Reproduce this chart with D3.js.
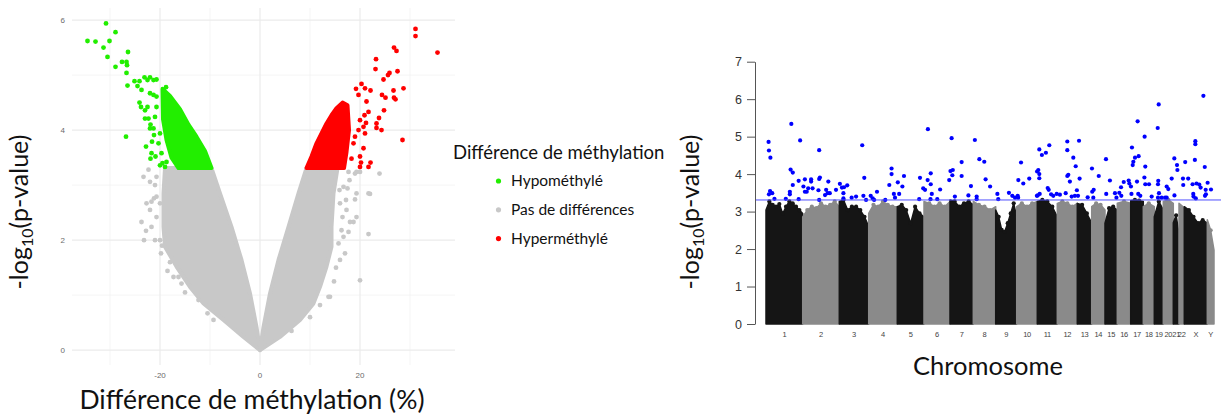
<!DOCTYPE html>
<html>
<head>
<meta charset="utf-8">
<script src="https://cdn.jsdelivr.net/npm/d3@7"></script>
<style>
  body { margin: 0; background: #fff; }
  svg { display: block; }
</style>
</head>
<body>
<svg id="chart" width="1221" height="416"></svg>
<script>
// ---- volcano plot data : [difference %, -log10(p)] ----
// dense clouds are outlined, isolated points are listed one by one
var greyLeftCloud = [[-19,3.31],[-9.7,3.31],[-8,2.85],[-5.7,2.24],[-3.7,1.64],[-2,1.03],[-0.7,0.42],[0,0],
  [-3.3,0.24],[-7.3,0.55],[-11.3,0.85],[-14,1.15],[-16.7,1.52],[-19,1.88],[-19.3,2.24],[-19.3,2.85]];
var greyRightCloud = [[9.3,3.31],[15.5,3.31],[14.7,2.85],[14.3,2.24],[14.3,1.88],[13.3,1.52],[12,1.15],
  [10.7,0.85],[8,0.55],[4,0.24],[0,0],[0.7,0.42],[2,1.03],[3.7,1.64],[5.7,2.24],[7.7,2.85]];
var hypoCloud = [[-19.5,4.75],[-18,4.62],[-16,4.38],[-14.3,4.1],[-12.7,3.88],[-11,3.62],[-9.7,3.31],
  [-16.3,3.31],[-17.7,3.5],[-18.7,3.82],[-19.4,4.2]];
var hyperCloud = [[9.3,3.31],[10.3,3.52],[11.3,3.76],[12.3,3.94],[13.3,4.12],[14.3,4.27],[15.3,4.4],
  [16.5,4.5],[17.5,4.45],[17.8,4.0],[17.3,3.6],[16.8,3.31]];

var greyPoints = [[-23.3,3.15],[-22.3,3.28],[-22,3.06],[-20.7,3.15],[-21,3.0],[-22.7,2.67],[-21.7,2.7],
  [-21.2,2.76],[-20.7,2.79],[-22,2.55],[-23.7,2.33],[-22.8,2.17],[-23.2,2.0],[-21,2.0],[-20,2.0],
  [-21.7,2.24],[-19.8,1.76],[-18.5,1.44],[-17.3,1.33],[-16.3,1.33],[-15.7,1.21],[-12.3,0.91],[-10.5,0.67],
  [-9.3,0.55],[-20,2.67],[-20.7,2.42],[-19.6,1.9],[-18,1.6],[-15,1.05],
  [23.9,3.21],[20,3.24],[19.3,3.24],[19,3.21],[17.7,3.24],[17.9,3.09],[21.7,2.85],[22,2.84],[19.3,2.85],
  [19,2.74],[17.2,2.73],[16.7,2.97],[17.5,2.94],[17.3,2.55],[19.3,2.42],[18,2.33],[18.7,2.33],[16.5,2.42],
  [17.7,2.15],[16.7,2.06],[21.7,2.11],[17,1.76],[16,1.64],[20,1.27],[14,0.97],[13.7,0.97],[12,0.82],
  [10,0.6],[6.3,0.35],[15.7,1.94],[16.3,2.18],[16,2.67],[15.9,2.91],[15.2,1.5],[14.8,1.25]];
var hypoPoints = [[-34.5,5.62],[-32.9,5.61],[-30.8,5.94],[-30.1,5.62],[-31.3,5.5],[-30.5,5.33],[-28.9,5.78],
  [-28.9,5.15],[-27.6,5.24],[-26.7,5.24],[-26.6,5.18],[-26.4,5.42],[-26.7,5.04],[-26.5,4.81],[-26.8,3.88],
  [-25.1,4.89],[-24.1,4.89],[-23.7,4.73],[-24.5,4.8],[-23.1,4.96],[-22.5,4.91],[-22,4.96],[-21.3,4.91],
  [-20.7,4.92],[-24.1,4.5],[-23.8,4.42],[-23,4.36],[-22.5,4.42],[-22,4.67],[-21.3,4.64],[-20.7,4.61],
  [-23,4.21],[-22.3,4.21],[-22,4.03],[-21.9,4.1],[-21.3,4.03],[-21,4.24],[-21.2,3.91],[-22.8,3.7],
  [-21.6,3.79],[-21.7,3.58],[-21.9,3.48],[-20.9,3.52],[-20.3,3.76],[-20,3.94],[-20.7,4.42],[-19.7,3.58],
  [-19,3.33],[-18.7,3.42],[-19.3,4.73],[-18.8,4.78],[-20,3.36],[-19.5,3.4]];
var hyperPoints = [[31.1,5.84],[31.1,5.71],[35.5,5.41],[26.8,5.5],[27.3,5.44],[23.2,5.29],[23.1,5.11],
  [25.9,5.04],[25.6,5.0],[27.5,5.07],[24.7,4.92],[28.7,4.76],[26.7,4.72],[24.4,4.64],[25.1,4.59],
  [26.8,4.59],[27.1,4.56],[24.8,4.36],[23.8,4.22],[23.3,4.12],[23.3,4.04],[24.3,4.0],[28.5,3.82],
  [20.3,4.84],[19.2,4.75],[21,4.76],[22.1,4.72],[19.7,4.64],[21.3,4.52],[21.7,4.33],[20.9,4.27],[20,4.18],
  [21.2,4.13],[20.7,4.06],[21,3.94],[19.7,4.0],[19,3.88],[20.7,3.67],[20,3.52],[20.2,3.41],[21.7,3.33],
  [22.1,3.41],[20,3.33],[18.3,3.48],[18.7,3.76]];

var volXTicks = [-20, 0, 20];
var volYTicks = [0, 2, 4, 6];
var legendLabels = ["Hypométhylé", "Pas de différences", "Hyperméthylé"];

// ---- manhattan plot data ----
var chrNames = ["1","2","3","4","5","6","7","8","9","10","11","12","13","14","15","16","17","18","19","20","21","22","X","Y"];
var chrSize = [36.7,36.6,29.4,28.6,26.7,26,23.3,22.4,21,20.6,20,20,14.4,13.3,12.3,13.4,12.6,11,9,10,5.7,5.3,23,6.7];
// upper edge of the dense column, sampled across each chromosome
var chrTop = [
  [3.04,3.27,3.18,3.13,3.2,2.95,3.13,3.27,3.22,3.13,3.04,2.95],
  [2.86,3.04,3.13,3.09,3.22,3.13,3.18,3.27,3.13],
  [3.27,3.31,3.04,3.13,3.13,3.04,2.86,2.6],
  [2.95,3.18,3.13,3.27,3.18,3.13,3.13],
  [3.13,3.18,3.04,2.69,3.13,2.95,2.86],
  [3.27,3.22,3.13,3.22,3.13,3.27],
  [3.31,3.27,3.13,3.22,3.27,3.18],
  [3.27,3.18,3.13,3.04,3.13],
  [3.04,2.86,2.51,2.46,2.69,2.95,3.22,2.86],
  [3.13,3.22,3.13,3.22,3.27],
  [3.27,3.31,3.27,3.13,2.86],
  [3.22,3.27,3.22,3.13,3.22],
  [3.22,3.18,2.95,2.69],
  [3.13,3.22,3.18,3.04],
  [2.69,3.09,3.13,3.04],
  [3.22,3.27,3.22],
  [3.29,3.31,3.29,3.27],
  [3.13,3.22,3.13],
  [2.86,3.27,3.04],
  [3.27,3.31,3.22],
  [2.7,2.9,2.4],
  [3.22,3.1],
  [3.13,3.04,2.86,2.69,2.77,2.69],
  [2.78,2.5,1.97]
];
// significant probes: [chromosome, position within chromosome (0-1), -log10(p)]
var sigPoints = [
  ["1",.07,4.86],["1",.08,4.63],["1",.12,4.44],["1",.11,3.55],["1",.08,3.46],["1",.17,3.49],["1",.23,3.34],
  ["1",.54,3.34],["1",.69,5.34],["1",.93,4.9],["1",.67,4.12],["1",.73,4.04],["1",.73,3.71],["1",.65,3.53],
  ["1",.65,3.46],["1",.89,3.82],["1",.89,3.33],
  ["2",.02,3.67],["2",.06,3.86],["2",.23,3.86],["2",.23,3.8],["2",.15,3.62],["2",.06,3.53],["2",.11,3.53],
  ["2",.27,3.62],["2",.45,4.64],["2",.45,3.87],["2",.47,3.91],["2",.43,3.57],["2",.45,3.31],["2",.61,3.44],
  ["2",.64,3.58],["2",.70,3.8],["2",.68,3.49],["2",.74,3.49],["2",.91,3.58],
  ["3",.02,3.74],["3",.09,3.64],["3",.14,3.49],["3",.16,3.65],["3",.27,3.7],["3",.14,3.35],["3",.42,3.37],
  ["3",.57,3.4],["3",.78,4.77],["3",.85,3.9],["3",.82,3.42],["3",.91,3.31],
  ["4",.07,3.42],["4",.14,3.35],["4",.19,3.31],["4",.29,3.53],["4",.58,3.31],["4",.80,4.15],["4",.80,4.0],
  ["4",.72,3.71],["4",.88,3.47],["4",.92,3.37],
  ["5",.02,3.78],["5",.07,3.47],["5",.19,3.67],["5",.25,3.95],["5",.82,3.33],["5",.85,3.9],["5",.97,3.62],
  ["6",.15,5.2],["6",.04,3.58],["6",.14,3.84],["6",.26,4.02],["6",.26,3.73],["6",.3,3.47],["6",.25,3.33],
  ["6",.62,3.59],["6",.51,3.33],["6",.97,3.84],
  ["7",.07,4.96],["7",.12,4.11],["7",.02,4.08],["7",.1,3.97],["7",.21,3.4],["7",.5,4.32],["7",.5,3.95],
  ["7",.79,3.43],["7",.9,3.68],
  ["8",.07,4.91],["8",.15,3.4],["8",.15,3.33],["8",.27,4.4],["8",.49,4.33],["8",.55,3.86],["8",.75,3.67],
  ["9",.08,3.47],["9",.12,3.33],["9",.63,3.5],["9",.79,3.42],["9",.92,3.37],
  ["10",.05,3.42],["10",.07,3.37],["10",.08,3.84],["10",.21,4.31],["10",.32,3.75],["10",.61,3.88],
  ["10",.98,3.42],["10",.99,4.07],
  ["11",.1,4.66],["11",.23,4.51],["11",.43,4.57],["11",.6,4.77],["11",.05,4.11],["11",.1,4.0],["11",.1,3.89],
  ["11",.12,3.47],["11",.02,3.43],["11",.52,3.63],["11",.57,3.58],["11",.69,3.46],["11",.8,3.42],["11",.97,3.47],
  ["12",.13,3.45],["12",.42,3.49],["12",.5,4.87],["12",.5,4.64],["12",.8,4.44],["12",.92,4.21],["12",.5,3.95],
  ["12",.55,3.98],["12",.63,3.8],["12",.72,3.4],["12",.88,3.42],["12",.98,3.57],
  ["13",.12,4.89],["13",.16,3.88],["13",.05,3.42],["13",.72,3.38],
  ["14",.02,4.15],["14",.04,3.53],["14",.15,3.58],["14",.12,3.37],["14",.53,3.95],
  ["15",.08,4.4],["15",.1,3.47],["15",.4,3.83],["15",.81,3.49],["15",.93,3.37],
  ["16",.15,3.5],["16",.28,3.65],["16",.48,3.79],["16",.85,3.83],["16",.9,3.75],["16",.3,3.42],
  ["17",.1,4.71],["17",.16,4.24],["17",.21,4.33],["17",.34,4.44],["17",.55,5.41],["17",.63,4.48],["17",.02,3.67],
  ["17",.06,3.47],["17",.5,3.8],["17",.6,3.47],["17",.76,3.42],
  ["18",.12,5.0],["18",.18,4.2],["18",.1,3.91],["18",.18,3.73],["18",.52,3.73],["18",.76,3.4],
  ["19",.49,5.86],["19",.38,5.23],["19",.44,3.82],["19",.41,3.73],["19",.52,3.49],["19",.41,3.37],["19",.82,3.37],
  ["20",.18,3.37],["20",.34,3.67],["20",.5,3.6],["20",.34,3.37],["20",.84,3.88],
  ["21",.18,4.42],["21",.65,4.24],["21",.72,4.11],["21",.2,3.43],
  ["22",.75,3.88],["22",.8,3.71],
  ["X",.04,4.32],["X",.17,3.88],["X",.48,4.88],["X",.48,4.8],["X",.46,4.38],["X",.36,3.73],["X",.39,3.47],
  ["X",.4,3.4],["X",.53,3.75],["X",.65,3.72],["X",.71,3.64],["X",.83,6.09],["X",.89,4.19],["X",.5,3.35],
  ["X",.9,3.42],["X",.93,3.58],["X",.94,3.46],
  ["Y",.05,3.77],["Y",.55,3.59]
];
var manYTicks = [0, 1, 2, 3, 4, 5, 6, 7];
var threshold = 3.31;

var svg = d3.select("#chart");
var titleFont = "Lato, 'Open Sans', sans-serif";

// ================= volcano =================
var vx = d3.scaleLinear().domain([-37.6, 39]).range([72, 455]);
var vy = d3.scaleLinear().domain([-0.27, 6.22]).range([365, 8]);

var vol = svg.append("g");

// grid (minor then major)
[-30, -10, 10, 30].forEach(function (d) {
  vol.append("line").attr("x1", vx(d)).attr("x2", vx(d)).attr("y1", 8).attr("y2", 365)
    .attr("stroke", "#f2f2f2").attr("stroke-width", 0.8);
});
[1, 3, 5].forEach(function (d) {
  vol.append("line").attr("x1", 72).attr("x2", 455).attr("y1", vy(d)).attr("y2", vy(d))
    .attr("stroke", "#f2f2f2").attr("stroke-width", 0.8);
});
volXTicks.forEach(function (d) {
  vol.append("line").attr("x1", vx(d)).attr("x2", vx(d)).attr("y1", 8).attr("y2", 365)
    .attr("stroke", "#ebebeb").attr("stroke-width", 1.2);
});
volYTicks.forEach(function (d) {
  vol.append("line").attr("x1", 72).attr("x2", 455).attr("y1", vy(d)).attr("y2", vy(d))
    .attr("stroke", "#ebebeb").attr("stroke-width", 1.2);
});

var outline = d3.line().x(function (d) { return vx(d[0]); }).y(function (d) { return vy(d[1]); })
  .curve(d3.curveLinearClosed);

var GREY = "#c8c8c8", GREEN = "#22ee00", RED = "#ff0000";

function cloud(pts, col) {
  vol.append("path").attr("d", outline(pts)).attr("fill", col).attr("stroke", col)
    .attr("stroke-width", 4).attr("stroke-linejoin", "round");
}
function dots(pts, col) {
  vol.append("g").selectAll("circle").data(pts).enter().append("circle")
    .attr("cx", function (d) { return vx(d[0]); })
    .attr("cy", function (d) { return vy(d[1]); })
    .attr("r", 2.4).attr("fill", col);
}
cloud(greyLeftCloud, GREY);
cloud(greyRightCloud, GREY);
dots(greyPoints, GREY);
cloud(hypoCloud, GREEN);
dots(hypoPoints, GREEN);
cloud(hyperCloud, RED);
dots(hyperPoints, RED);

// tick labels
vol.append("g").selectAll("text").data(volXTicks).enter().append("text")
  .attr("x", function (d) { return vx(d); }).attr("y", 378)
  .attr("text-anchor", "middle").attr("font-family", "'Liberation Sans', Arial, sans-serif")
  .attr("font-size", 8).attr("fill", "#6b6b6b").text(function (d) { return d; });
vol.append("g").selectAll("text").data(volYTicks).enter().append("text")
  .attr("x", 65).attr("y", function (d) { return vy(d) + 3; })
  .attr("text-anchor", "end").attr("font-family", "'Liberation Sans', Arial, sans-serif")
  .attr("font-size", 8).attr("fill", "#6b6b6b").text(function (d) { return d; });

// titles
vol.append("text").attr("x", 252).attr("y", 409).attr("text-anchor", "middle")
  .attr("font-family", titleFont).attr("font-size", 26.5).attr("fill", "#111")
  .text("Différence de méthylation (%)");

function logTitle(cx, cy) {
  var t = svg.append("text").attr("transform", "translate(" + cx + "," + cy + ") rotate(-90)")
    .attr("text-anchor", "middle").attr("font-family", titleFont).attr("font-size", 25).attr("fill", "#111");
  t.append("tspan").text("-log");
  t.append("tspan").attr("font-size", 16).attr("dy", 5).text("10");
  t.append("tspan").attr("dy", -5).text("(p-value)");
}
logTitle(28, 212);

// legend
var leg = svg.append("g");
leg.append("text").attr("x", 453).attr("y", 159).attr("font-family", titleFont)
  .attr("font-size", 18.5).attr("fill", "#111").text("Différence de méthylation");
var legCols = [GREEN, GREY, RED];
legendLabels.forEach(function (lab, i) {
  var y = 181 + i * 28.8;
  leg.append("circle").attr("cx", 498.5).attr("cy", y).attr("r", 2.6).attr("fill", legCols[i]);
  leg.append("text").attr("x", 511).attr("y", y + 5).attr("font-family", titleFont)
    .attr("font-size", 15.5).attr("fill", "#111").text(lab);
});

// ================= manhattan =================
var starts = [], acc = 0;
chrSize.forEach(function (s) { starts.push(acc); acc += s; });
var mx = d3.scaleLinear().domain([0, acc]).range([766, 1214]);
var my = d3.scaleLinear().domain([0, 7]).range([324, 61.7]);

var man = svg.append("g");
var area = d3.area().x(function (d) { return mx(d.x); }).y0(my(0)).y1(function (d) { return my(d.v); });

chrNames.forEach(function (c, i) {
  var prof = chrTop[i];
  var col = i % 2 === 0 ? "#151515" : "#8a8a8a";
  var pts = prof.map(function (v, j) {
    return { x: starts[i] + chrSize[i] * j / (prof.length - 1), v: v };
  });
  man.append("path").attr("d", area(pts)).attr("fill", col)
    .attr("stroke", col).attr("stroke-width", 1.5).attr("stroke-linejoin", "round");
  // round the top edge like stacked dots
  man.append("g").selectAll("circle").data(pts.slice(1, -1)).enter().append("circle")
    .attr("cx", function (d) { return mx(d.x); }).attr("cy", function (d) { return my(d.v); })
    .attr("r", 2.1).attr("fill", col);
});

// significant probes
man.append("g").selectAll("circle").data(sigPoints).enter().append("circle")
  .attr("cx", function (d) {
    var i = chrNames.indexOf(d[0]);
    return mx(starts[i] + chrSize[i] * d[1]);
  })
  .attr("cy", function (d) { return my(d[2]); })
  .attr("r", 2.1).attr("fill", "#0000ff");

// threshold line
man.append("line").attr("x1", 755).attr("x2", 1221).attr("y1", my(threshold)).attr("y2", my(threshold))
  .attr("stroke", "#4f4fff").attr("stroke-width", 1);

// y axis
var yAxis = man.append("g").attr("transform", "translate(755,0)")
  .call(d3.axisLeft(my).tickValues(manYTicks).tickFormat(d3.format("d"))
    .tickSize(8).tickSizeOuter(0).tickPadding(5));
yAxis.select(".domain").attr("stroke", "#555");
yAxis.selectAll(".tick line").attr("stroke", "#555");
yAxis.selectAll("text").attr("font-family", "'Liberation Sans', Arial, sans-serif")
  .attr("font-size", 12.5).attr("fill", "#333");

// chromosome labels
man.append("g").selectAll("text").data(chrNames).enter().append("text")
  .attr("x", function (d, i) { return mx(starts[i] + chrSize[i] / 2); })
  .attr("y", 337).attr("text-anchor", "middle")
  .attr("font-family", "'Liberation Sans', Arial, sans-serif").attr("font-size", 7.5)
  .attr("letter-spacing", -0.3).attr("fill", "#444")
  .text(function (d) { return d; });

man.append("text").attr("x", 988).attr("y", 375).attr("text-anchor", "middle")
  .attr("font-family", titleFont).attr("font-size", 25.5).attr("fill", "#111").text("Chromosome");

logTitle(699, 212);
</script>
</body>
</html>
